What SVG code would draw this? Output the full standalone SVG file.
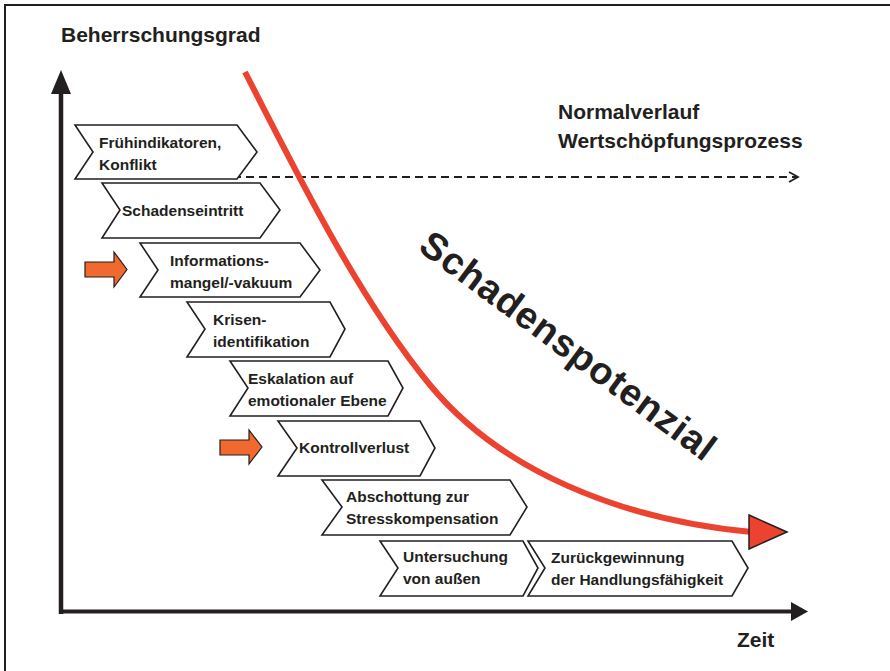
<svg xmlns="http://www.w3.org/2000/svg" width="890" height="671" viewBox="0 0 890 671">
<defs>
<style>
.lbl{font-family:"Liberation Sans",Arial,sans-serif;font-weight:bold;fill:#231f20}
.ax{font-size:21px}
.nv{font-size:21px}
.ch{font-size:15.5px}
.chev{fill:#fff;stroke:#231f20;stroke-width:1.6;stroke-linejoin:miter}
.oarr{fill:#f0692e;stroke:#231f20;stroke-width:1.2}
</style>
<marker id="open" viewBox="0 0 12 12" refX="10" refY="6" markerWidth="12" markerHeight="12" markerUnits="userSpaceOnUse" orient="auto">
<path d="M1,1 L10,6 L1,11" fill="none" stroke="#231f20" stroke-width="1.8"/>
</marker>
</defs>
<rect width="890" height="671" fill="#fff"/>
<path d="M5,671 V5 H890" fill="none" stroke="#231f20" stroke-width="2"/>

<g id="axes">
<line x1="61" y1="614" x2="61" y2="90" stroke="#231f20" stroke-width="4.5"/>
<polygon points="61,70 51,94 71,94" fill="#231f20"/>
<line x1="59" y1="611.5" x2="792" y2="611.5" stroke="#231f20" stroke-width="4"/>
<polygon points="808,611.5 791,602 791,621" fill="#231f20"/>
<text class="lbl ax" x="61" y="42">Beherrschungsgrad</text>
<text class="lbl ax" x="737" y="647">Zeit</text>
</g>

<g id="normalverlauf">
<text class="lbl nv" x="558" y="119">Normalverlauf</text>
<text class="lbl nv" x="558" y="148">Wertschöpfungsprozess</text>
</g>

<g id="connectors">
<line x1="220" y1="177" x2="798" y2="177" stroke="#231f20" stroke-width="1.8" stroke-dasharray="8,5" marker-end="url(#open)"/>
</g>

<g id="n1">
<polygon class="chev" points="75,125 237,125 257,152 237,179 75,179 93,152"/>
<text class="lbl ch" x="99" y="148">Frühindikatoren,</text>
<text class="lbl ch" x="99" y="170">Konflikt</text>
</g>
<g id="n2">
<polygon class="chev" points="102,183 260,183 280,210 260,238 102,238 120,210"/>
<text class="lbl ch" x="122" y="216">Schadenseintritt</text>
</g>
<g id="n3">
<polygon class="chev" points="140,243 300,243 320,270 300,297 140,297 158,270"/>
<text class="lbl ch" x="170" y="266">Informations-</text>
<text class="lbl ch" x="170" y="288">mangel/-vakuum</text>
</g>
<g id="n4">
<polygon class="chev" points="187,302 330,302 345,329 330,357 187,357 205,329"/>
<text class="lbl ch" x="213" y="325">Krisen-</text>
<text class="lbl ch" x="213" y="347">identifikation</text>
</g>
<g id="n5">
<polygon class="chev" points="230,361 388,361 403,388 388,416 230,416 248,388"/>
<text class="lbl ch" x="248" y="384">Eskalation auf</text>
<text class="lbl ch" x="248" y="406">emotionaler Ebene</text>
</g>
<g id="n6">
<polygon class="chev" points="278,421 420,421 435,448 420,476 278,476 297,448"/>
<text class="lbl ch" x="299" y="453">Kontrollverlust</text>
</g>
<g id="n7">
<polygon class="chev" points="322,480 510,480 527,507 510,535 322,535 342,507"/>
<text class="lbl ch" x="346" y="502">Abschottung zur</text>
<text class="lbl ch" x="346" y="524">Stresskompensation</text>
</g>
<g id="n8">
<polygon class="chev" points="380,541 523,541 538,568 523,596 380,596 398,568"/>
<text class="lbl ch" x="403" y="562">Untersuchung</text>
<text class="lbl ch" x="403" y="584">von außen</text>
</g>
<g id="n9">
<polygon class="chev" points="528,541 732,541 748,568 732,596 528,596 545,568"/>
<text class="lbl ch" x="551" y="563">Zurückgewinnung</text>
<text class="lbl ch" x="551" y="585">der Handlungsfähigkeit</text>
</g>

<g id="arrows">
<polygon class="oarr" points="85,262 114,262 114,252 127,269.5 114,287 114,277 85,277"/>
<polygon class="oarr" points="220,440 249,440 249,430 262,447 249,464 249,455 220,455"/>
</g>

<g id="schadenspotenzial">
<path d="M245,72 C300,180 360,300 430,385 C500,470 620,520 752,532" fill="none" stroke="#ec4330" stroke-width="6"/>
<polygon points="787,532 749,515 749,549" fill="#ec4330" stroke="#231f20" stroke-width="1.5"/>
<text class="lbl" font-size="38" letter-spacing="0.8" text-anchor="middle" transform="translate(569,345) rotate(36.5)" y="14">Schadenspotenzial</text>
</g>
</svg>
